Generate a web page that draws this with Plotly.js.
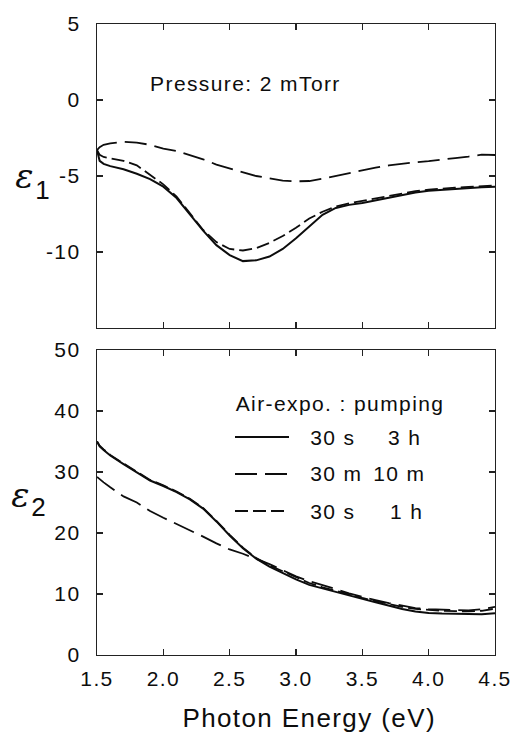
<!DOCTYPE html>
<html>
<head>
<meta charset="utf-8">
<script src="https://cdn.plot.ly/plotly-3.0.1.min.js"></script>
<style>
html,body{margin:0;padding:0;background:#fff;}
#plot{width:512px;height:732px;}
#plot text{letter-spacing:1.4px;}
</style>
</head>
<body>
<div id="plot"></div>
<script>
// Photon energy grid (eV)
var energy = [1.5, 1.52, 1.55, 1.6, 1.7, 1.8, 1.9, 2.0, 2.1, 2.2, 2.3, 2.4, 2.5, 2.6, 2.7, 2.8, 2.9, 3.0,
              3.1, 3.2, 3.3, 3.4, 3.5, 3.6, 3.7, 3.8, 3.9, 4.0, 4.1, 4.2, 4.3, 4.4, 4.5];

// epsilon_1
var e1_30s_3h = [-3.3, -4.0, -4.2, -4.35, -4.56, -4.85, -5.2, -5.7, -6.45, -7.5, -8.6, -9.55, -10.2, -10.6,
                 -10.55, -10.3, -9.8, -9.1, -8.3, -7.55, -7.1, -6.9, -6.78, -6.6, -6.42, -6.25, -6.08,
                 -5.97, -5.9, -5.84, -5.8, -5.74, -5.7];
var e1_30m_10m = [-3.3, -3.1, -2.95, -2.85, -2.75, -2.8, -2.95, -3.2, -3.35, -3.6, -3.9, -4.25, -4.5, -4.78,
                  -5.0, -5.15, -5.3, -5.35, -5.33, -5.18, -5.0, -4.78, -4.62, -4.45, -4.3, -4.18, -4.1,
                  -4.02, -3.9, -3.82, -3.72, -3.6, -3.62];
var e1_30s_1h = [-3.3, -3.6, -3.75, -3.85, -4.0, -4.3, -4.95, -5.55, -6.35, -7.45, -8.55, -9.35, -9.8, -9.9,
                 -9.75, -9.4, -8.95, -8.4, -7.8, -7.35, -7.0, -6.8, -6.65, -6.48, -6.3, -6.15, -6.0,
                 -5.9, -5.82, -5.76, -5.72, -5.66, -5.62];

// epsilon_2
var e2_30s_3h = [35.0, 34.2, 33.6, 32.7, 31.3, 29.9, 28.6, 27.7, 26.7, 25.5, 24.0, 21.9, 19.6, 17.5, 15.8,
                 14.5, 13.4, 12.4, 11.5, 10.9, 10.3, 9.7, 9.2, 8.65, 8.1, 7.55, 7.15, 6.9, 6.8, 6.75,
                 6.7, 6.7, 6.85];
var e2_30m_10m = [29.2, 28.8, 28.3, 27.5, 26.0, 25.0, 23.6, 22.5, 21.5, 20.4, 19.4, 18.3, 17.3, 16.6, 15.8,
                  14.9, 13.9, 12.9, 12.1, 11.5, 10.8, 10.1, 9.5, 9.0, 8.5, 8.05, 7.7, 7.5, 7.45, 7.4,
                  7.3, 7.5, 7.9];
var e2_30s_1h = [35.0, 34.3, 33.7, 32.8, 31.4, 30.0, 28.7, 27.8, 26.8, 25.6, 24.1, 22.0, 19.7, 17.6, 15.9,
                 14.7, 13.7, 12.7, 11.8, 11.1, 10.5, 9.9, 9.35, 8.85, 8.35, 7.9, 7.55, 7.35, 7.25, 7.2,
                 7.15, 7.25, 7.6];

// Tick labels
var xTicks = [1.5, 2.0, 2.5, 3.0, 3.5, 4.0, 4.5];
var xTickText = ["1.5", "2.0", "2.5", "3.0", "3.5", "4.0", "4.5"];
var y1Ticks = [5, 0, -5, -10];
var y1TickText = ["5", "0", "-5", "-10"];
var y2Ticks = [0, 10, 20, 30, 40, 50];
var y2TickText = ["0", "10", "20", "30", "40", "50"];

// Legend entries
var legendHeader = "Air-expo. : pumping";
var legendAir = ["30 s", "30 m", "30 s"];
var legendPump = ["3 h", "10 m", "1 h"];

var styles = [
  {dash: "solid", width: 2},
  {dash: "22px,8px", width: 1.8},
  {dash: "13px,5px", width: 1.8}
];

var FONT = "Arial, 'Liberation Sans', sans-serif";
var INK = "#0d0d0d";
var SPACING = 1.4; // css letter-spacing, px

// layout helpers (pixel -> paper)
var L = 97, R = 495, T = 24, B = 655;
function px(x) { return (x - L) / (R - L); }
function py(y) { return (B - y) / (B - T); }

var e1Series = [e1_30s_3h, e1_30m_10m, e1_30s_1h];
var e2Series = [e2_30s_3h, e2_30m_10m, e2_30s_1h];
var traces = [];
for (var i = 0; i < 3; i++) {
  traces.push({x: energy, y: e1Series[i], xaxis: "x2", yaxis: "y2", mode: "lines",
    line: {color: INK, dash: styles[i].dash, width: styles[i].width}, showlegend: false, hoverinfo: "skip"});
  traces.push({x: energy, y: e2Series[i], xaxis: "x", yaxis: "y", mode: "lines",
    line: {color: INK, dash: styles[i].dash, width: styles[i].width}, showlegend: false, hoverinfo: "skip"});
}

var axBase = {
  showgrid: false, zeroline: false, showline: true, linecolor: "#222", linewidth: 1.3,
  mirror: "allticks", ticks: "inside", ticklen: 6, tickwidth: 1.2, tickcolor: "#222",
  tickfont: {family: FONT, size: 21, color: INK}
};

function merge(a, b) { var o = {}; for (var k in a) o[k] = a[k]; for (var k2 in b) o[k2] = b[k2]; return o; }

function note(text, x, y, xanchor, font) {
  // compensate the half-width that the css letter-spacing adds around a centred text
  var shift = text.length * SPACING / 2;
  var xx = xanchor === "left" ? x + shift : (xanchor === "right" ? x - shift : x);
  return {text: text, xref: "paper", yref: "paper", x: px(xx), y: py(y), xanchor: xanchor, yanchor: "middle",
          showarrow: false, borderpad: 0, borderwidth: 0, font: font};
}
var epsFont = {family: "'DejaVu Serif', serif", size: 34, color: INK, style: "italic"};
var subFont = {family: FONT, size: 26, color: INK};
var txtFont = {family: FONT, size: 21, color: INK};

var annotations = [
  note("Pressure: 2 mTorr", 150, 83, "left", txtFont),
  note("Photon Energy (eV)", 309, 718, "center", {family: FONT, size: 26, color: INK}),
  note("ε", 35, 176, "right", epsFont),
  note("1", 35.5, 190, "left", subFont),
  note("ε", 31, 495, "right", epsFont),
  note("2", 31.5, 507, "left", subFont),
  note(legendHeader, 236, 403, "left", txtFont)
];
var rowY = [437, 474, 511];
var pumpX = [388, 373, 390];
var shapes = [];
for (var r = 0; r < 3; r++) {
  annotations.push(note(legendAir[r], 310, rowY[r], "left", txtFont));
  annotations.push(note(legendPump[r], pumpX[r], rowY[r], "left", txtFont));
  shapes.push({type: "line", xref: "paper", yref: "paper", x0: px(235), x1: px(289), y0: py(rowY[r]), y1: py(rowY[r]),
    line: {color: INK, dash: styles[r].dash, width: styles[r].width}});
}

var layout = {
  width: 512, height: 732,
  margin: {l: L, r: 512 - R, t: T, b: 732 - B, pad: 0},
  paper_bgcolor: "#fff", plot_bgcolor: "#fff",
  showlegend: false,
  xaxis: merge(axBase, {domain: [0, 1], range: [1.5, 4.5], tickvals: xTicks, ticktext: xTickText,
    anchor: "y", ticklabelstandoff: 4}),
  yaxis: merge(axBase, {domain: [0, py(350)], range: [0, 50], tickvals: y2Ticks, ticktext: y2TickText,
    anchor: "x", ticklabelstandoff: 11}),
  xaxis2: merge(axBase, {domain: [0, 1], range: [1.5, 4.5], tickvals: xTicks, showticklabels: false, anchor: "y2"}),
  yaxis2: merge(axBase, {domain: [py(328), 1], range: [-15, 5], tickvals: y1Ticks, ticktext: y1TickText,
    anchor: "x2", ticklabelstandoff: 11}),
  annotations: annotations,
  shapes: shapes
};

Plotly.newPlot("plot", traces, layout, {staticPlot: true, displayModeBar: false});
</script>
</body>
</html>
